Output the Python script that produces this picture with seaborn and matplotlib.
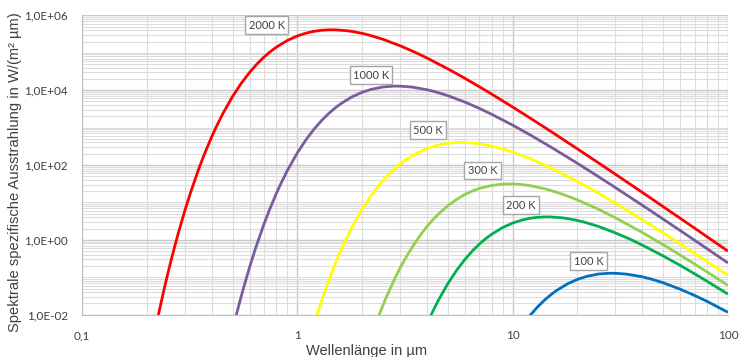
import numpy as np
import pandas as pd
import matplotlib
matplotlib.use('Agg')
import matplotlib.pyplot as plt
from matplotlib.ticker import FixedLocator, LogLocator, FuncFormatter, NullFormatter
import seaborn as sns

# wavelengths (um) and spectral exitance W/(m² um)
wl_2000 = [0.22, 0.23, 0.24, 0.25, 0.26, 0.27, 0.28, 0.3, 0.32, 0.35, 0.37, 0.4, 0.42, 0.45, 0.5, 0.55, 0.6,
           0.65, 0.7, 0.75, 0.8, 0.9, 1.0, 1.1, 1.2, 1.3, 1.4, 1.5, 1.7, 1.8, 2, 2.2, 2.5, 3, 3.5, 4, 5, 6, 7,
           8, 10, 12, 15, 20, 25, 30, 40, 50, 60, 70, 80, 100]
m_2000 = [4.6e-3, 0.0152, 0.0451, 0.122, 0.303, 0.700, 1.51, 5.93, 19.2, 84.4, 194, 565, 1042, 2312, 6755,
          15510, 29860, 50320, 76620, 1.077e5, 1.42e5, 2.14e5, 2.81e5, 3.36e5, 3.76e5, 4.0e5, 4.1e5, 4.1e5,
          3.88e5, 3.71e5, 3.3e5, 2.87e5, 2.29e5, 1.54e5, 1.05e5, 7.25e4, 3.72e4, 2.08e4, 1.24e4, 7833, 3553,
          1831, 801, 270, 115, 56.8, 18.6, 7.74, 3.78, 2.06, 1.21, 0.50]

wl_1000 = [0.5, 0.52, 0.54, 0.56, 0.6, 0.64, 0.7, 0.74, 0.8, 0.84, 0.9, 1.0, 1.1, 1.2, 1.3, 1.4, 1.5, 1.6,
           1.8, 2, 2.2, 2.5, 2.8, 3, 3.4, 4, 4.4, 5, 6, 7, 8, 10, 12, 15, 20, 25, 30, 40, 50, 60, 70, 80, 100]
m_1000 = [3.8e-3, 9.5e-3, 0.0219, 0.0472, 0.185, 0.601, 2.64, 6.07, 17.7, 32.6, 72.3, 211, 485, 933, 1573,
          2394, 3364, 4437, 6690, 8789, 10500, 12170, 12830, 12830, 12140, 10300, 8965, 7140, 4812, 3269,
          2266, 1164, 649, 306, 111, 49.2, 25.0, 8.44, 3.59, 1.78, 0.976, 0.58, 0.242]

wl_500 = [1.2, 1.3, 1.4, 1.5, 1.6, 1.8, 2, 2.2, 2.4, 2.6, 2.8, 3, 3.2, 3.5, 4, 4.4, 4.8, 5.2, 5.6, 6, 6.8,
          8, 8.8, 10, 12, 15, 20, 25, 30, 40, 50, 60, 70, 80, 100]
m_500 = [5.8e-3, 0.0246, 0.0824, 0.23, 0.552, 2.26, 6.6, 15.2, 29.2, 49.1, 74.8, 105, 138.7, 192, 275, 328,
         367, 390, 401, 401, 379, 322, 280, 223, 150, 84.8, 36.4, 17.7, 9.57, 3.47, 1.54, 0.782, 0.438,
         0.264, 0.112]

wl_300 = [2.2, 2.4, 2.5, 2.6, 2.8, 3, 3.2, 3.5, 3.8, 4, 4.2, 4.5, 5, 5.5, 6, 6.5, 7, 8, 9, 10, 11, 12, 14,
          15, 17, 20, 25, 30, 40, 50, 60, 70, 80, 100]
m_300 = [2.5e-3, 9.85e-3, 0.0179, 0.0307, 0.0791, 0.176, 0.345, 0.797, 1.56, 2.27, 3.15, 4.77, 8.18, 12.1,
         16.3, 20.2, 23.6, 28.5, 30.9, 31.2, 30.1, 28.2, 23.4, 21.0, 16.7, 11.7, 6.6, 3.9, 1.58, 0.744,
         0.393, 0.226, 0.139, 0.0608]

wl_200 = [4, 4.2, 4.5, 5, 5.5, 6, 6.5, 7, 7.5, 8, 9, 10, 11, 12, 13, 14, 15, 17, 18, 20, 22, 25, 30, 35,
          40, 50, 60, 70, 80, 100]
m_200 = [5.7e-3, 0.0104, 0.0231, 0.0676, 0.155, 0.299, 0.503, 0.766, 1.077, 1.42, 2.14, 2.81, 3.36, 3.76,
         4.0, 4.1, 4.1, 3.88, 3.71, 3.3, 2.87, 2.29, 1.54, 1.05, 0.725, 0.372, 0.208, 0.124, 0.0783, 0.0355]

wl_100 = [12, 13, 14, 15, 16, 18, 20, 22, 25, 28, 30, 34, 40, 44, 50, 60, 70, 80, 100]
m_100 = [9.3e-3, 0.0157, 0.0239, 0.0336, 0.0444, 0.0669, 0.0879, 0.105, 0.122, 0.128, 0.128, 0.121, 0.103,
         0.0897, 0.0714, 0.0481, 0.0327, 0.0227, 0.0116]

temps = ['2000 K', '1000 K', '500 K', '300 K', '200 K', '100 K']
colors = ['#FF0000', '#7A5C9E', '#FFFF00', '#92D050', '#00B050', '#0070C0']
label_x = [0.72, 2.2, 4.05, 7.25, 10.9, 22.5]
label_y = [5.5e5, 2.5e4, 850, 72, 8.5, 0.27]

series = [(wl_2000, m_2000), (wl_1000, m_1000), (wl_500, m_500),
          (wl_300, m_300), (wl_200, m_200), (wl_100, m_100)]
frames = []
for name, (wl, m) in zip(temps, series):
    frames.append(pd.DataFrame({'wl': wl, 'M': m, 'T': name}))
df = pd.concat(frames, ignore_index=True)

sns.set_style('white')
plt.rcParams['font.family'] = ['Lato', 'DejaVu Sans']

fig = plt.figure(figsize=(7.39, 3.57), dpi=100)
ax = fig.add_axes([0.111, 0.1185, 0.874, 0.8385])

sns.lineplot(data=df, x='wl', y='M', hue='T', hue_order=temps, palette=colors,
             estimator=None, sort=False, linewidth=2, legend=False, ax=ax,
             solid_joinstyle='round', solid_capstyle='butt')

ax.set_xscale('log')
ax.set_yscale('log')
ax.set_xlim(0.1, 100)
ax.set_ylim(1e-2, 1e6)

ax.xaxis.set_major_locator(FixedLocator([0.1, 1, 10, 100]))
ax.xaxis.set_minor_locator(LogLocator(base=10, subs=np.arange(2, 10), numticks=100))
ax.xaxis.set_major_formatter(FuncFormatter(lambda v, p: {0.1: '0,1', 1: '1', 10: '10', 100: '100'}.get(round(v, 3), '')))
ax.xaxis.set_minor_formatter(NullFormatter())

ax.yaxis.set_major_locator(FixedLocator([1e-2, 1, 1e2, 1e4, 1e6]))
ax.yaxis.set_minor_locator(LogLocator(base=10, subs=np.arange(1, 10), numticks=100))
ax.yaxis.set_major_formatter(FuncFormatter(lambda v, p: '1,0E%+03d' % int(round(np.log10(v)))))
ax.yaxis.set_minor_formatter(NullFormatter())

ax.grid(which='major', color='#C8C8C8', linewidth=1.0)
ax.grid(which='minor', color='#DCDCDC', linewidth=0.8)
ax.set_axisbelow(True)

for s in ['top', 'right']:
    ax.spines[s].set_visible(False)
for s in ['left', 'bottom']:
    ax.spines[s].set_color('#BFBFBF')

ax.tick_params(which='major', length=4, color='#BFBFBF', labelsize=8.5, labelcolor='#404040')
ax.tick_params(which='minor', length=0)
ax.tick_params(axis='x', pad=7)
ax.tick_params(axis='y', pad=6)

ax.set_xlabel('Wellenlänge in µm', fontsize=10.5, color='#404040',
              family=['Liberation Sans', 'DejaVu Sans'])
ax.xaxis.set_label_coords(0.44, -0.097)
ax.set_ylabel('Spektrale spezifische Ausstrahlung in W/(m² µm)', fontsize=10.6, color='#404040',
              family=['Liberation Sans', 'DejaVu Sans'])
ax.yaxis.set_label_coords(-0.093, 0.475)

for name, lx, ly in zip(temps, label_x, label_y):
    ax.text(lx, ly, name, fontsize=8, color='#404040', ha='center', va='center',
            bbox=dict(boxstyle='square,pad=0.3', facecolor='white', edgecolor='#A6A6A6', linewidth=1))

fig.savefig('out.png', dpi=100)
